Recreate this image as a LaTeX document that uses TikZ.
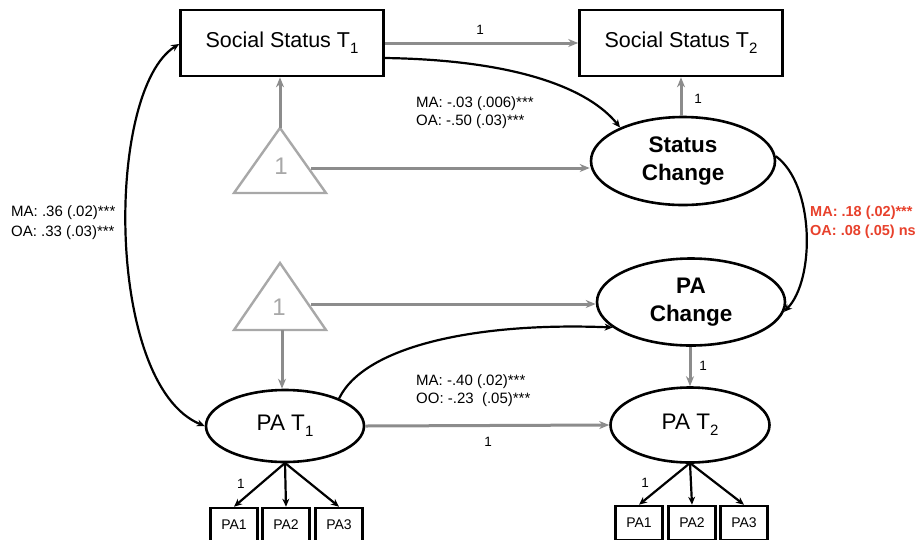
\documentclass[tikz,border=0pt]{standalone}
\usepackage{fontspec}
\setmainfont{Liberation Sans}
\usetikzlibrary{shapes.geometric,arrows.meta}
\definecolor{arrgray}{HTML}{8C8C8C}
\definecolor{trigray}{HTML}{A8A8A8}
\definecolor{lblred}{HTML}{E8412C}
\newcommand{\mysub}[1]{\raisebox{-0.28em}{\fontsize{15}{16}\selectfont #1}}
\begin{document}
\begin{tikzpicture}[x=1pt,y=-1pt,
  obsbox/.style={draw,line width=2.6pt,rectangle,minimum width=203pt,minimum height=66pt,inner sep=0pt,font=\fontsize{21.5}{24}\selectfont},
  latent/.style={draw,line width=2.6pt,ellipse,inner sep=0pt,font=\fontsize{22.5}{28}\selectfont},
  indic/.style={draw,line width=2.6pt,rectangle,minimum width=47pt,minimum height=34pt,inner sep=0pt,font=\fontsize{14}{16}\selectfont},
  garr/.style={draw=arrgray,line width=3pt,-{Stealth[length=10pt,width=8pt]}},
  barr/.style={draw=black,line width=2.2pt,-{Stealth[length=8pt,width=7pt]}},
  tri/.style={draw=trigray,line width=2.4pt,line join=miter},
  coef/.style={anchor=west,inner sep=0pt,font=\fontsize{15}{17}\selectfont},
  one/.style={inner sep=0pt,font=\fontsize{13.5}{15}\selectfont},
]
\useasboundingbox (0,0) rectangle (923,539);
\fill[white] (0,0) rectangle (923,539);

% observed boxes
\node[obsbox] (ss1) at (282,43) {Social Status T\mysub{1}};
\node[obsbox] (ss2) at (681,43) {Social Status T\mysub{2}};

% latent ellipses
\node[latent,minimum width=184pt,minimum height=88pt,align=center] (sc) at (683,161) {\bfseries Status\\\bfseries Change};
\node[latent,minimum width=188pt,minimum height=87pt,align=center] (pac) at (691,302) {\bfseries PA\\\bfseries Change};
\node[latent,minimum width=158pt,minimum height=72pt] (pa1) at (285,426) {PA T\mysub{1}};
\node[latent,minimum width=159pt,minimum height=75pt] (pa2) at (690,425) {PA T\mysub{2}};

% triangles
\draw[tri] (234,193) -- (280,128) -- (326,193) -- cycle;
\node[text=trigray,inner sep=0pt,font=\fontsize{24}{26}\selectfont] (k1) at (281,166) {1};
\coordinate (k1top) at (280,128);
\coordinate (k1right) at (311,168);
\draw[tri] (234,330) -- (280,263) -- (326,330) -- cycle;
\node[text=trigray,inner sep=0pt,font=\fontsize{24}{26}\selectfont] (k2) at (279,307) {1};
\coordinate (k2right) at (311,304);
\coordinate (k2bot) at (282,330);

% indicators
\node[indic] (a1) at (234,525) {PA1};
\node[indic] (a2) at (286,525) {PA2};
\node[indic] (a3) at (339,525) {PA3};
\node[indic] (b1) at (639,523) {PA1};
\node[indic] (b2) at (692,523) {PA2};
\node[indic] (b3) at (744,523) {PA3};

% gray arrows
\draw[garr] (ss1.east |- 0,43) -- (ss2.west |- 0,43);
\node[one] at (480,30) {1};
\draw[garr] (k1top) -- (ss1.south -| k1top);
\draw[garr] (k1right) -- (sc.west |- k1right);
\draw[garr] (sc.north -| 681,0) -- (ss2.south -| 681,0);
\node[one] at (698,99) {1};
\draw[garr] (k2right) -- (pac.west |- k2right);
\draw[garr] (k2bot) -- (pa1.north -| k2bot);
\draw[garr] (pa1.east) -- (pa2.west);
\node[one] at (488,442) {1};
\draw[garr] (pac.south -| 690,0) -- (pa2.north -| 690,0);
\node[one] at (703,366) {1};

% black curved paths
\draw[barr] (ss1.east |- 0,58) .. controls (520,60) and (590,90) .. (sc.152);
\draw[barr] (sc.3) .. controls (815,185) and (815,280) .. (pac.-6);
\draw[barr] (pa1.27) .. controls (365,345) and (480,322) .. (pac.198);
\draw[draw=black,line width=2.2pt,{Stealth[length=8pt,width=7pt]}-{Stealth[length=8pt,width=7pt]}] (ss1.west |- 0,44) .. controls (105,90) and (105,385) .. (pa1.west);

% indicator arrows
\coordinate (pa1b) at (285,463);
\coordinate (pa2b) at (690,463);
\draw[barr] (pa1b) -- (a1.north);
\draw[barr] (pa1b) -- (a2.north);
\draw[barr] (pa1b) -- (a3.north);
\draw[barr] (pa2b) -- (b1.north);
\draw[barr] (pa2b) -- (b2.north);
\draw[barr] (pa2b) -- (b3.north);
\node[one] at (241,484) {1};
\node[one] at (645,483) {1};

% coefficient labels
\node[coef] at (416,104) {MA: -.03 (.006)***};
\node[coef] at (416,122) {OA: -.50 (.03)***};
\node[coef] at (11,213) {MA: .36 (.02)***};
\node[coef] at (11,233) {OA: .33 (.03)***};
\node[coef,text=lblred,font=\fontsize{14.5}{16}\selectfont\bfseries] at (810,213) {MA: .18 (.02)***};
\node[coef,text=lblred,font=\fontsize{14.5}{16}\selectfont\bfseries] at (810,232) {OA: .08 (.05) ns};
\node[coef] at (416,382) {MA: -.40 (.02)***};
\node[coef] at (416,400) {OO: -.23\ \ (.05)***};
\end{tikzpicture}
\end{document}
